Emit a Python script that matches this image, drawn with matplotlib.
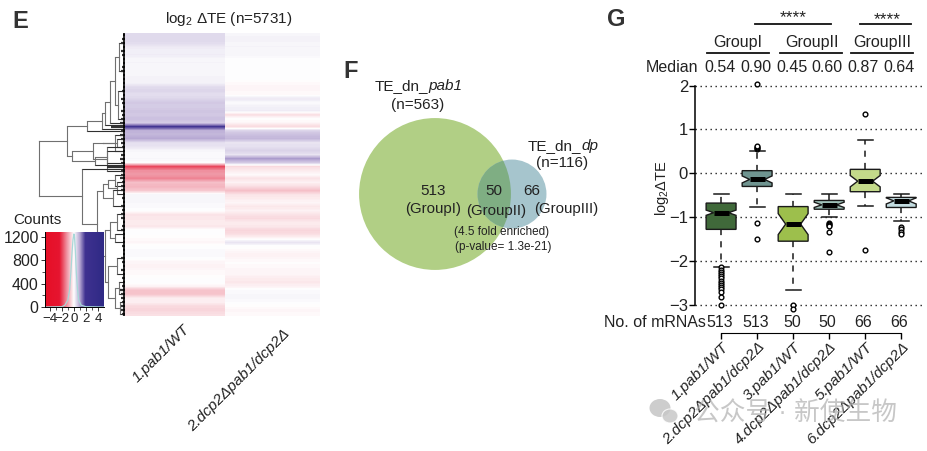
#! /usr/bin/python3
import numpy as np
from matplotlib import pyplot as plt
from matplotlib.colors import LinearSegmentedColormap
from matplotlib.patches import Circle, Ellipse

plt.rcParams['font.family'] = ['Liberation Sans', 'Noto Sans CJK SC', 'DejaVu Sans']
plt.rcParams['mathtext.fontset'] = 'custom'
plt.rcParams['mathtext.rm'] = 'Liberation Sans'
plt.rcParams['mathtext.it'] = 'Liberation Sans:italic'
plt.rcParams['mathtext.bf'] = 'Liberation Sans:bold'

W, H = 927, 451

# E: heatmap rows, top to bottom
heat_col1 = [.4, .42, .38, .22, .18, .2, .1, .12, .08, .12, .1, .15, .12,
             .4, .45, .35, .45, .6, .55, .65, .6, .7, .55, 1.9, .85, .8, .95,
             .35, .3, .1, .05, .08, .02, -1.9, -1.2, -1.1, -1.3, -.7, -.8, -.6,
             .08, .1, .08, .05, .02, -.3, -.25, -.2, -.25,
             .03, .02, -.05, -.1, .02, .05, .08, .03, -.1, -.15, -.08, -.05, 0, .02,
             -.1, -.65, -.65, -.2, -.15, -.4, -.45, -.35]
heat_col2 = [.1, .15, .1, .12, .08, .1, .02, 0, .02, 0, .02, .03,
             -.05, -.1, -.08, -.05, .25, .05, .15, .2, -.35, 0, -.1, -.4, .5,
             .7, .8, .3, .35, .5, .3, 1.1, .6, -.4, -.2, -.05, -.3, -.15, -.35, -.7,
             -.3, -.2, -.1, -.25, -.15, -.3, -.4, -.2, -.25, -.45, -.35, -.1, .3,
             -.02, -.05, -.15, -.1, -.03, -.05, -.1, -.1, -.2, -.25, -.15,
             .05, .08, .1, .03, -.03, -.1, -.05]
heat_labels = ['1.pab1/WT', '2.dcp2Δpab1/dcp2Δ']

# dendrogram: (distance, child, child), a bare number is a leaf row
dendro = (86,
          (58,
           (38, (23, (20, (15, (10, (6, 2, 9), (7, 14, 21)), 22), 22.5), 23.5), 24),
           (53,
            (32, (22, (10, 25, 29), (8, 26, 28)), (18, 28, 34)),
            (30, (18, 29, 32), 32.5))),
          (43, 33.5,
           (28,
            (22, (17, (10, 35, 38), (8, 37, 40)), (12, 39, 43)),
            (20, (15, (8, 45, 49), (10, 50, 52)),
             (17, (8, 56, 60), (10, (6, 62, 65), (5, 67, 70)))))))
leaf_depth = [2, 3, 4, 2, 4, 3, 2, 2, 3, 4, 2, 2, 2, 2, 3, 2, 4, 3, 2, 4, 3, 4, 5, 14,
              4, 5, 4, 4, 3, 2, 4, 5, 4, 18, 4, 4, 5, 3, 4, 4, 2, 3, 2, 4, 3, 4, 4, 2,
              3, 4, 2, 2, 2, 3, 2, 2, 4, 3, 2, 4, 2, 3, 2, 3, 5, 4, 4, 3, 4, 4, 3]

# E: colour key
key_ticks = [-4, -2, 0, 2, 4]
count_ticks = [0, 400, 800, 1200]
count_x = [-4.8, -2, -1.5, -1, -.7, -.5, -.3, -.15, 0, .1, .25, .4, .6, .8, 1.2, 2, 5]
count_y = [0, 5, 30, 120, 300, 600, 950, 1150, 1250, 1200, 950, 600, 300, 120, 30, 5, 0]

# F: venn set sizes
venn_n = [563, 116]

# G: boxes
box_labels = ['1.pab1/WT', '2.dcp2Δpab1/dcp2Δ', '3.pab1/WT',
              '4.dcp2Δpab1/dcp2Δ', '5.pab1/WT', '6.dcp2Δpab1/dcp2Δ']
box_q1 = [-1.28, -.3, -1.55, -.82, -.42, -.78]
box_med = [-.9, -.14, -1.16, -.72, -.18, -.63]
box_q3 = [-.68, .06, -.76, -.62, .09, -.55]
box_notch = [.06, .08, .24, .06, .13, .07]
box_lo = [-2.13, -.76, -2.67, -1.0, -.75, -1.09]
box_hi = [-.48, .52, -.48, -.48, .77, -.48]
box_fliers = [[-2.15, -2.2, -2.25, -2.3, -2.35, -2.4, -2.45, -2.5, -2.55, -2.6, -2.65, -2.7, -2.83, -3.0],
              [2.03, .56, .58, .6, .62, -1.13, -1.5],
              [-3.0, -3.1],
              [-1.13, -1.15, -1.17, -1.2, -1.33, -1.8],
              [1.36, -1.74],
              [-1.22, -1.28, -1.33, -1.38]]
box_colors = ['#40693a', '#6f9490', '#9dbf4c', '#9fc1b9', '#c3d98a', '#c3dce0']
medians = ['0.54', '0.90', '0.45', '0.60', '0.87', '0.64']
n_mrna = ['513', '513', '50', '50', '66', '66']

fig = plt.figure(figsize=(W / 100, H / 100), dpi=100)


def px_axes(x0, y0, x1, y1):
    return fig.add_axes([x0 / W, 1 - y1 / H, (x1 - x0) / W, (y1 - y0) / H])


# overlay in pixel units, only for text and the venn
page = fig.add_axes([0, 0, 1, 1])
page.set_xlim(0, W)
page.set_ylim(H, 0)
page.axis('off')

cmap = LinearSegmentedColormap.from_list('te', [
    (0, '#e60f25'), (.26, '#e61530'), (.39, '#f09aa8'), (.5, '#ffffff'),
    (.6, '#b5a6d2'), (.69, '#3f3190'), (1, '#2f2a85')])
norm = plt.Normalize(-5, 5)

# heatmap, one axes per column since they are not the same width
for (x0, x1), col in zip([(125, 225), (225, 320)], [heat_col1, heat_col2]):
    ax_h = px_axes(x0, 33, x1, 316)
    ax_h.imshow(np.array([col]).T, cmap=cmap, norm=norm, aspect='auto', interpolation='bilinear')
    ax_h.axis('off')

# dendrogram
ax_d = px_axes(30, 33, 125, 316)
ax_d.set_xlim(95, 0)
ax_d.set_ylim(len(heat_col1) - .5, -.5)
ax_d.axis('off')


def draw_tree(node, parent_d=None):
    if isinstance(node, tuple):
        d, a, b = node
        ya = draw_tree(a, d)
        yb = draw_tree(b, d)
        ax_d.plot([d, d], [ya, yb], color='#707070', lw=.8, solid_capstyle='butt')
        y = (ya + yb) / 2
        d_here = d
    else:
        y, d_here = node, 0
    ax_d.plot([parent_d, d_here], [y, y], color='#707070' if d_here else '#303030', lw=.8)
    return y


d0, a0, b0 = dendro
ya0, yb0 = draw_tree(a0, d0), draw_tree(b0, d0)
ax_d.plot([d0, d0], [ya0, yb0], color='#707070', lw=.8)
ax_d.hlines(np.arange(len(leaf_depth)), 0, leaf_depth, color='#333333', lw=1.6)
ax_d.vlines(.6, -.5, len(leaf_depth) - .5, color='black', lw=1.2)

# colour key
ax_k = px_axes(45, 232, 104, 307)
grad = np.linspace(-4.8, 5, 300).reshape(1, -1)
ax_k.imshow(grad, cmap=cmap, norm=norm, aspect='auto', extent=(-4.8, 5, 0, 1285))
ax_k.plot(count_x, count_y, color='#a8d8d8', lw=.9)
ax_k.set_xlim(-4.8, 5)
ax_k.set_ylim(0, 1285)
ax_k.set_xticks(key_ticks, [str(t).replace('-', '\u2212') for t in key_ticks])
ax_k.set_xticks([-3, -1, 1, 3], minor=True)
ax_k.set_yticks(count_ticks)
ax_k.set_yticks([200, 600, 1000], minor=True)
ax_k.tick_params(axis='x', labelsize=9.5, length=3, width=.7, pad=1.5, color='#333333', labelcolor='#222222')
ax_k.tick_params(axis='y', labelsize=11.5, length=3, width=.7, pad=1.5, color='#333333', labelcolor='#222222')
ax_k.tick_params(which='minor', length=2, width=.6, color='#333333')
for s in ['top', 'right']:
    ax_k.spines[s].set_visible(False)
for s in ['left', 'bottom']:
    ax_k.spines[s].set_linewidth(.7)

txt = dict(color='#222222', ha='center', va='center')
page.text(12, 22, 'E', fontsize=17, fontweight='bold', color='#333333', va='center')
page.text(343, 72, 'F', fontsize=17, fontweight='bold', color='#333333', va='center')
page.text(607, 20, 'G', fontsize=17, fontweight='bold', color='#333333', va='center')
page.text(229, 19, 'log$_2$ ΔTE (n=5731)', fontsize=11, **txt)
page.text(13, 220, 'Counts', fontsize=11, color='#222222', va='center')
page.text(183, 322, heat_labels[0], fontsize=11, rotation=45, ha='right', va='top',
          rotation_mode='anchor', style='italic', color='#222222')
page.text(283, 327, heat_labels[1], fontsize=11, rotation=45, ha='right', va='top',
          rotation_mode='anchor', style='italic', color='#222222')

# venn
r_big, r_small = [3.2 * np.sqrt(n) for n in venn_n]
big = Circle((435, 194), r_big, fc='#b1cf85', ec='none')
small = Circle((512, 194), r_small, fc='#a6c5cd', ec='none')
both = Circle((512, 194), r_small, fc='#7fae83', ec='none')
page.add_patch(big)
page.add_patch(small)
page.add_patch(both)
both.set_clip_path(big)

page.text(428, 86, 'TE_dn_', fontsize=11, color='#222222', ha='right', va='center')
page.text(428, 86, 'pab1', fontsize=11, style='italic', color='#222222', ha='left', va='center')
page.text(418, 105, '(n=563)', fontsize=11, **txt)
page.text(581, 146, 'TE_dn_', fontsize=11, color='#222222', ha='right', va='center')
page.text(581, 146, 'dp', fontsize=11, style='italic', color='#222222', ha='left', va='center')
page.text(562, 163, '(n=116)', fontsize=11, **txt)
page.text(433, 191, '513', fontsize=11, **txt)
page.text(433, 209, '(GroupI)', fontsize=10.8, **txt)
page.text(494, 191, '50', fontsize=11, **txt)
page.text(496, 211, '(GroupII)', fontsize=10.8, **txt)
page.text(532, 191, '66', fontsize=11, **txt)
page.text(566, 209, '(GroupIII)', fontsize=10.8, **txt)
page.text(502, 232, '(4.5 fold enriched)', fontsize=8.5, **txt)
page.text(503, 247, '(p-value= 1.3e-21)', fontsize=8.5, **txt)

# boxplot
ax_b = px_axes(695, 85.7, 925, 304.7)
positions = np.arange(1, 7)
stats = []
for i in range(6):
    stats.append(dict(med=box_med[i], q1=box_q1[i], q3=box_q3[i],
                      cilo=box_med[i] - box_notch[i], cihi=box_med[i] + box_notch[i],
                      whislo=box_lo[i], whishi=box_hi[i], fliers=box_fliers[i]))
ax_b.hlines([2, 1, 0, -1, -2, -3], .276, 6.61, color='#222222', lw=1,
            linestyles=(0, (1, 2.6)), zorder=1, clip_on=False)
parts = ax_b.bxp(stats, positions=positions, widths=.83, shownotches=True, patch_artist=True,
                 capwidths=.42, zorder=3,
                 boxprops=dict(edgecolor='#1a1a1a', lw=1),
                 medianprops=dict(color='black', lw=3.6, solid_capstyle='butt'),
                 whiskerprops=dict(color='#1a1a1a', lw=1.1, linestyle=(0, (4, 4))),
                 capprops=dict(color='#1a1a1a', lw=1.1),
                 flierprops=dict(marker='o', ms=3.4, mfc='white', mec='black', mew=1, clip_on=False))
for box, c in zip(parts['boxes'], box_colors):
    box.set_facecolor(c)
ax_b.set_xlim(.276, 6.66)
ax_b.set_ylim(-3, 2)
for s in ['top', 'right']:
    ax_b.spines[s].set_visible(False)
# set_position resets the ticks, so it comes before the tick setup
ax_b.spines['bottom'].set_position(('outward', 20.5))
ax_b.spines['bottom'].set_bounds(1, 6)
ax_b.spines['left'].set_linewidth(1.1)
ax_b.patch.set_alpha(0)
ax_b.set_yticks([-3, -2, -1, 0, 1, 2], ['\u22123', '\u22122', '\u22121', '0', '1', '2'])
ax_b.set_xticks(positions, box_labels)
ax_b.tick_params(axis='y', labelsize=12, length=4, width=1, pad=1, labelcolor='#222222')
ax_b.tick_params(axis='x', labelsize=11, length=4, width=1, pad=1, labelcolor='#222222')
plt.setp(ax_b.get_xticklabels(), rotation=45, ha='right', va='top', rotation_mode='anchor', style='italic')

page.text(662, 188, 'log$_2$ΔTE', fontsize=10.5, rotation=90, **txt)
page.text(672, 68, 'Median', fontsize=11.5, **txt)
page.text(655, 322.5, 'No. of mRNAs', fontsize=11.5, **txt)
for xc, m, n in zip([720, 756, 792, 827, 863, 899], medians, n_mrna):
    page.text(xc, 68, m, fontsize=11.5, **txt)
    page.text(xc, 322.5, n, fontsize=11.5, **txt)
for xc, g in zip([738, 812, 882], ['GroupI', 'GroupII', 'GroupIII']):
    page.text(xc, 42, g, fontsize=11.5, **txt)
for x0, x1 in [(707, 769), (780, 842), (851, 913)]:
    page.plot([x0, x1], [53, 53], color='#111111', lw=1.3)
for x0, x1 in [(755, 831), (860, 911)]:
    page.plot([x0, x1], [24, 24], color='#111111', lw=1.3)
page.set_xlim(0, W)
page.set_ylim(H, 0)
page.text(793, 18, '****', fontsize=12.5, **txt)
page.text(887, 20, '****', fontsize=12.5, **txt)

# watermark
fig_mark = fig.add_axes([0, 0, 1, 1])
fig_mark.set_xlim(0, W)
fig_mark.set_ylim(H, 0)
fig_mark.axis('off')
fig_mark.add_patch(Ellipse((660, 408), 21, 18, fc='#bdbdbd', ec='none', alpha=.75))
fig_mark.add_patch(Ellipse((670, 416), 16, 14, fc='#c8c8c8', ec='white', lw=.8, alpha=.85))
fig_mark.text(796, 414, '公众号 · 新使生物', fontsize=18.5, color='#b0b0b0', alpha=.7,
              ha='center', va='center')

fig.savefig('out.png', dpi=100)
